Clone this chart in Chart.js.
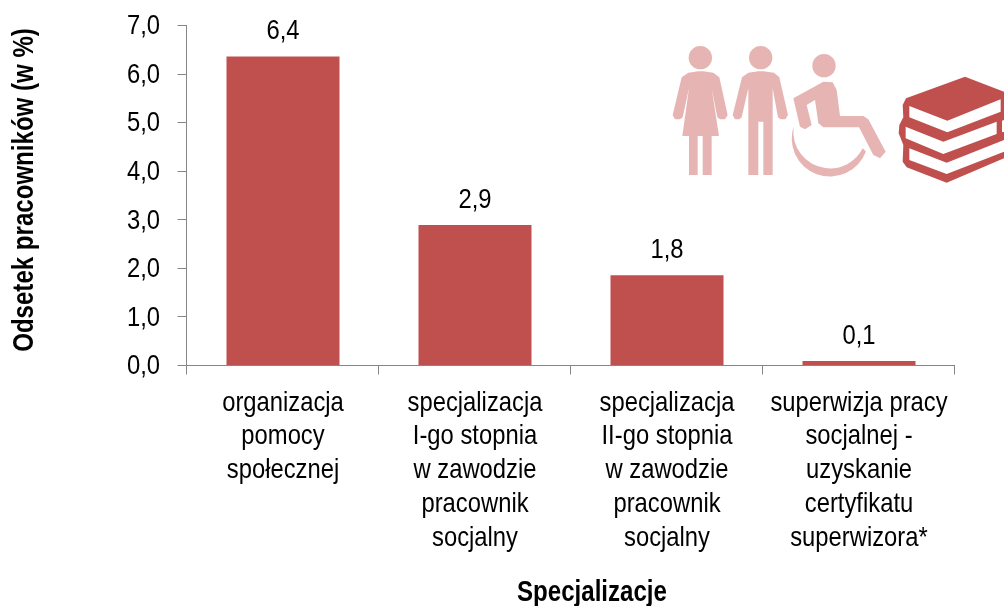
<!DOCTYPE html>
<html><head><meta charset="utf-8">
<style>html,body{margin:0;padding:0;background:#fff}#w{position:relative;width:1004px;height:606px}canvas{display:block}</style>
<script src="https://cdn.jsdelivr.net/npm/chart.js"></script></head>
<body><div id="w"><canvas id="c" width="1004" height="606"></canvas></div>
<script>
const categories=[
["organizacja","pomocy","społecznej"],
["specjalizacja","I-go stopnia","w zawodzie","pracownik","socjalny"],
["specjalizacja","II-go stopnia","w zawodzie","pracownik","socjalny"],
["superwizja pracy","socjalnej -","uzyskanie","certyfikatu","superwizora*"]];
const values=[6.35,2.88,1.85,0.08];
const valueLabels=["6,4","2,9","1,8","0,1"];
const yTicks=["0,0","1,0","2,0","3,0","4,0","5,0","6,0","7,0"];
const yTitle="Odsetek pracowników (w %)";
const xTitle="Specjalizacje";
const FONT='"Liberation Sans", Arial, sans-serif';
const barColor="#C0504D", axisColor="#868686", iconP="#E6B5B3";
const canvas=document.getElementById('c');
const ctx0=canvas.getContext('2d');
// The reference uses a condensed face: draw every text narrower about its anchor.
const origFill=ctx0.fillText.bind(ctx0);
ctx0.fillText=function(t,x,y,m){
 let dx=0,dy=0,sx=.85;
 if(t===xTitle){dx=21;dy=4;sx=.83}
 else if(t===yTitle){dx=5;sx=.83}
 else if(yTicks.includes(t)&&ctx0.textAlign==='right'){dy=1.5}
 ctx0.save();ctx0.translate(x+dx,y+dy);ctx0.scale(sx,1);origFill(t,0,0);ctx0.restore();};

const labelPlugin={id:'vl',afterDatasetsDraw(ch){const c=ch.ctx;const m=ch.getDatasetMeta(0);c.save();c.font='28px '+FONT;c.fillStyle='#000';c.textAlign='center';c.textBaseline='alphabetic';
 m.data.forEach((b,i)=>{c.fillText(valueLabels[i],b.x,b.y-17.5)});c.restore();}};
const axisPlugin={id:'ax',afterDraw(ch){const c=ch.ctx,x=ch.scales.x,y=ch.scales.y;c.save();c.strokeStyle=axisColor;c.lineWidth=1;
 const L=Math.round(x.left)-.5,B=Math.round(y.bottom)+.5,R=x.right;
 c.beginPath();c.moveTo(L,y.top);c.lineTo(L,B);c.moveTo(L,B);c.lineTo(R,B);
 y.ticks.forEach(t=>{const p=Math.round(y.getPixelForValue(t.value))+.5;c.moveTo(L-9,p);c.lineTo(L,p)});
 const n=categories.length;for(let i=0;i<=n;i++){const p=Math.round(x.left+(x.right-x.left)*i/n)-.5;c.moveTo(p,B);c.lineTo(p,B+9)}
 c.stroke();c.restore();}};
// decorative pictograms; outline points are in a 3x grid anchored at (660,30)
const P=(c,pts)=>{c.beginPath();pts.forEach(([x,y],i)=>{const X=660+x/3,Y=30+y/3;i?c.lineTo(X,Y):c.moveTo(X,Y)});c.closePath();c.fill()};
const iconPlugin={id:'ic',afterDraw(ch){const c=ch.ctx;c.save();
 c.fillStyle=iconP;
 const head=(x,y)=>{c.beginPath();c.arc(660+x/3,30+y/3,11.7,0,7);c.fill()};
 head(121,83);head(302,83);head(492,107);
 P(c,[[85,128],[115,124],[130,124],[160,128],[178,142],[203,255],[195,268],[180,268],[172,262],[155,175],[177,318],[155,318],[155,435],[128,435],[128,318],[113,318],[113,435],[87,435],[87,318],[67,318],[87,175],[68,262],[60,268],[45,268],[38,255],[65,142]]);
 P(c,[[265,128],[295,124],[310,124],[342,128],[358,142],[384,255],[376,268],[362,268],[354,262],[338,175],[338,435],[310,435],[310,275],[295,275],[295,435],[265,435],[265,175],[245,262],[238,268],[225,268],[218,255],[246,142]]);
 P(c,[[400,205],[490,155],[518,157],[530,180],[540,258],[610,258],[625,268],[677,365],[660,385],[640,375],[597,292],[490,292],[475,280],[465,210],[440,225],[455,285],[435,298],[420,290]]);
 c.beginPath();c.arc(830,138.3,38.3,0.355,3.49);c.arc(830,131.7,36.7,Math.PI+0.13,0.47,true);c.closePath();c.fill();
 c.fillStyle=barColor;
 P(c,[[915,140],[1032,185],[1032,385],[860,458],[740,412],[728,395],[730,345],[716,310],[718,285],[730,262],[728,225],[738,205]]);
 c.fillStyle='#fff';
 P(c,[[748,228],[862,272],[1022,208],[1022,245],[862,307],[748,262]]);
 P(c,[[737,290],[850,335],[1010,275],[1010,312],[850,372],[737,325]]);
 P(c,[[748,355],[860,398],[1032,330],[1032,365],[860,432],[748,390]]);
 P(c,[[1026,272],[1032,270],[1032,305],[1026,307]]);
 c.restore();}};
new Chart(canvas,{type:'bar',
 data:{labels:categories,datasets:[{data:values,backgroundColor:barColor,borderWidth:0,categoryPercentage:1,barPercentage:113/192}]},
 plugins:[labelPlugin,axisPlugin,iconPlugin],
 options:{responsive:false,animation:false,
  layout:{padding:{top:25,right:49,left:0,bottom:0}},
  plugins:{legend:{display:false},tooltip:{enabled:false},title:{display:false}},
  scales:{
   x:{position:'bottom',grid:{display:false,drawTicks:false},border:{display:false},
      afterFit(s){s.height=241;s.paddingLeft=0;s.paddingRight=0},
      ticks:{color:'#000',font:{family:FONT,size:28,lineHeight:1.205},maxRotation:0,minRotation:0,autoSkip:false,padding:21},
      title:{display:true,text:xTitle,color:'#000',font:{family:FONT,size:29,weight:'bold'},padding:{top:14,bottom:0}}},
   y:{min:0,max:7,grid:{display:false,drawTicks:false},border:{display:false},
      afterFit(s){s.width=187;s.paddingTop=0;s.paddingBottom=0},
      ticks:{stepSize:1,color:'#000',font:{family:FONT,size:28},padding:27,callback:(v)=>yTicks[v]},
      title:{display:true,text:yTitle,color:'#000',font:{family:FONT,size:29,weight:'bold'},padding:{top:8,bottom:0}}}
  }}});
</script></body></html>
